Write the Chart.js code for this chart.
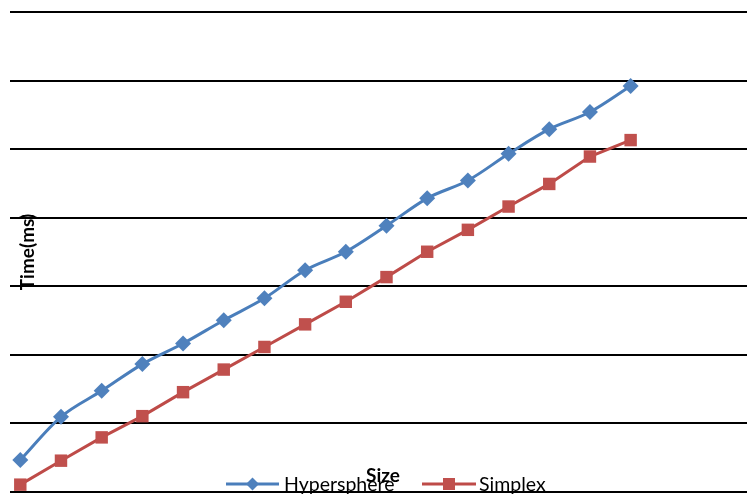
<!DOCTYPE html>
<html>
<head>
<meta charset="utf-8">
<script src="https://cdn.jsdelivr.net/npm/chart.js@4/dist/chart.umd.min.js"></script>
<style>
html,body{margin:0;padding:0;background:#fff;}
#c{display:block;}
</style>
</head>
<body>
<canvas id="c" width="747" height="496"></canvas>
<script>
const sizes = [1,2,3,4,5,6,7,8,9,10,11,12,13,14,15,16];
const hypersphere = [0.46,1.09,1.47,1.86,2.16,2.50,2.82,3.23,3.50,3.88,4.28,4.54,4.93,5.29,5.54,5.92];
const simplex = [0.10,0.45,0.79,1.10,1.45,1.78,2.11,2.44,2.77,3.13,3.50,3.82,4.16,4.49,4.89,5.13];
const seriesNames = ["Hypersphere","Simplex"];
const xTitle = "Size";
const yTitle = "Time(ms)";

const BLUE = "#4A7EBB", BLUE_M = "#4F81BD";
const RED = "#BE4B48", RED_M = "#C0504D";
const FONT = "Lato, 'Liberation Sans', sans-serif";

const overlay = {
  id: 'overlay',
  afterDraw(chart) {
    const ctx = chart.ctx;
    ctx.save();
    // legend
    const ds = chart.data.datasets;
    const items = [{x0:226, x1:279, tx:284}, {x0:422, x1:476, tx:479}];
    const ly = 484;
    items.forEach((it, i) => {
      const d = ds[i];
      ctx.strokeStyle = d.borderColor;
      ctx.lineWidth = 3;
      ctx.beginPath(); ctx.moveTo(it.x0, ly); ctx.lineTo(it.x1, ly); ctx.stroke();
      const cx = (it.x0 + it.x1) / 2;
      ctx.fillStyle = d.pointBackgroundColor;
      ctx.beginPath();
      if (d.pointStyle === 'rectRot') {
        const r = 6.5;
        ctx.moveTo(cx, ly - r); ctx.lineTo(cx + r, ly); ctx.lineTo(cx, ly + r); ctx.lineTo(cx - r, ly);
        ctx.closePath();
      } else {
        ctx.rect(cx - 6, ly - 6, 12, 12);
      }
      ctx.fill();
      ctx.fillStyle = "#000";
      ctx.font = "19.5px " + FONT;
      ctx.textAlign = "left"; ctx.textBaseline = "middle";
      ctx.fillText(d.label, it.tx, ly + 1);
    });
    // x title
    ctx.font = "bold 19px " + FONT;
    ctx.textAlign = "center"; ctx.textBaseline = "middle";
    ctx.fillStyle = "#000";
    ctx.fillText(xTitle, 383, 476);
    // y title
    ctx.translate(28, 252);
    ctx.rotate(-Math.PI / 2);
    ctx.fillText(yTitle, 0, 0);
    ctx.restore();
  }
};

new Chart(document.getElementById('c'), {
  type: 'line',
  data: {
    datasets: [
      {
        label: seriesNames[0],
        data: sizes.map((s, i) => ({x: s, y: hypersphere[i]})),
        borderColor: BLUE, backgroundColor: BLUE_M,
        pointBackgroundColor: BLUE_M, pointBorderColor: BLUE_M,
        borderWidth: 3, pointStyle: 'rectRot', pointRadius: 8, pointBorderWidth: 0,
        tension: 0.2, cubicInterpolationMode: 'monotone', clip: false
      },
      {
        label: seriesNames[1],
        data: sizes.map((s, i) => ({x: s, y: simplex[i]})),
        borderColor: RED, backgroundColor: RED_M,
        pointBackgroundColor: RED_M, pointBorderColor: RED_M,
        borderWidth: 3, pointStyle: 'rect', pointRadius: 8.8, pointBorderWidth: 0,
        tension: 0, clip: false
      }
    ]
  },
  options: {
    responsive: false,
    animation: false,
    layout: { autoPadding: false, padding: { left: 10, top: 12, right: 0, bottom: 4.5 } },
    plugins: { legend: { display: false }, tooltip: { enabled: false } },
    scales: {
      x: {
        type: 'linear', min: 0.747, max: 18.86, display: false
      },
      y: {
        min: 0, max: 7,
        ticks: { display: false, stepSize: 1 },
        grid: { color: "#000", lineWidth: 2, drawTicks: false, tickLength: 0 },
        border: { display: false }
      }
    }
  },
  plugins: [overlay]
});
</script>
</body>
</html>
